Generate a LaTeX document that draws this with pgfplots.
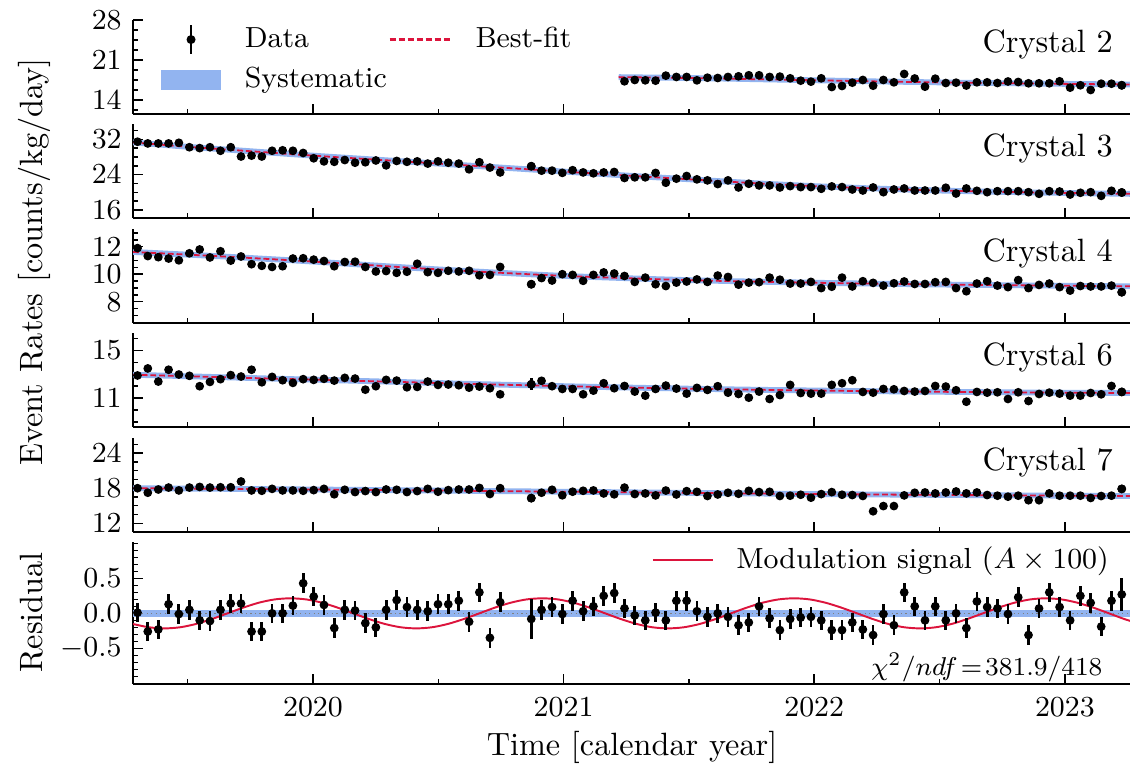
\documentclass[border=0pt]{standalone}
\usepackage{pgfplots}
\pgfplotsset{compat=1.18}
\usepackage{pgfplotstable}
\definecolor{crim}{RGB}{220,20,60}
\definecolor{sysblue}{RGB}{146,180,240}
\tikzset{lab/.style={inner sep=0pt, outer sep=0pt, font=\normalsize}}

\pgfplotstableread{
t c2 c3 c4 c6 c7 r re
2019.300 nan 31.45 11.90 12.89 18.00 0.01 0.14
2019.341 nan 31.06 11.32 13.48 17.23 -0.26 0.14
2019.383 nan 31.06 11.24 12.38 17.78 -0.23 0.14
2019.424 nan 31.06 11.14 13.37 18.11 0.13 0.14
2019.465 nan 31.20 11.01 12.97 17.62 -0.01 0.14
2019.507 nan 30.20 11.52 12.86 18.11 0.05 0.14
2019.548 nan 30.00 11.80 11.99 18.22 -0.10 0.14
2019.589 nan 30.20 11.22 12.35 18.11 -0.11 0.14
2019.631 nan 29.40 11.67 12.58 18.16 0.05 0.14
2019.672 nan 30.20 10.99 12.92 18.16 0.14 0.14
2019.713 nan 28.10 11.29 12.80 19.15 0.14 0.14
2019.755 nan 28.30 10.73 13.37 17.62 -0.26 0.14
2019.796 nan 28.10 10.61 12.32 17.56 -0.26 0.14
2019.837 nan 29.40 10.53 12.77 17.89 0.00 0.14
2019.879 nan 29.50 10.58 12.49 17.62 0.00 0.14
2019.920 nan 29.40 11.14 12.27 17.62 0.11 0.14
2019.961 nan 28.90 11.16 12.58 17.56 0.43 0.14
2020.003 nan 27.70 11.06 12.52 17.67 0.24 0.14
2020.044 nan 27.00 10.96 12.61 17.89 0.12 0.14
2020.085 nan 26.90 10.58 12.46 16.96 -0.21 0.14
2020.127 nan 27.30 10.89 12.69 17.73 0.05 0.14
2020.168 nan 26.70 10.91 12.63 17.34 0.04 0.14
2020.209 nan 26.80 10.53 11.70 17.51 -0.14 0.14
2020.251 nan 27.20 10.20 11.99 17.34 -0.20 0.14
2020.292 nan 26.10 10.23 12.52 17.78 0.05 0.14
2020.334 nan 27.10 10.10 12.46 17.73 0.19 0.14
2020.375 nan 26.90 10.18 11.90 17.34 0.09 0.14
2020.416 nan 27.00 10.76 11.93 17.51 0.05 0.14
2020.458 nan 26.50 10.15 12.38 17.89 0.03 0.14
2020.499 nan 27.00 10.10 12.10 17.40 0.13 0.14
2020.540 nan 26.70 10.25 12.13 17.67 0.13 0.14
2020.582 nan 26.50 10.20 12.07 17.78 0.18 0.14
2020.623 nan 25.20 10.25 11.87 17.78 -0.12 0.14
2020.664 nan 26.80 9.92 11.96 18.05 0.30 0.14
2020.706 nan 25.60 9.95 11.82 17.01 -0.35 0.14
2020.747 nan 24.50 10.53 11.31 18.00 0.16 0.14
2020.871 nan 25.90 9.27 12.15 16.30 -0.08 0.29
2020.912 nan 24.90 9.72 12.44 17.23 0.05 0.14
2020.954 nan 24.90 9.54 11.99 17.73 0.09 0.14
2020.995 nan 24.40 10.00 11.76 16.79 -0.01 0.14
2021.036 nan 25.00 9.95 11.76 17.40 0.18 0.14
2021.078 nan 24.50 9.52 11.31 17.56 0.03 0.14
2021.119 nan 24.30 9.95 11.62 17.62 0.10 0.14
2021.160 nan 24.50 10.13 12.24 17.10 0.25 0.14
2021.202 nan 24.60 10.05 11.82 16.95 0.29 0.14
2021.243 17.27 23.24 9.87 12.01 18.10 0.07 0.14
2021.284 17.50 23.39 9.44 11.54 17.00 -0.03 0.14
2021.326 17.44 23.39 9.75 11.20 17.10 -0.10 0.14
2021.367 17.38 24.38 9.27 11.76 16.77 0.01 0.14
2021.408 18.26 22.17 9.14 12.04 17.60 -0.10 0.14
2021.450 18.03 23.09 9.39 11.79 16.93 0.18 0.14
2021.491 18.03 23.69 9.47 11.37 17.50 0.18 0.14
2021.532 17.44 22.93 9.62 11.85 17.38 0.03 0.14
2021.574 17.90 22.70 9.44 11.68 16.67 -0.05 0.14
2021.615 17.85 21.87 9.90 11.99 16.93 0.00 0.14
2021.656 18.03 22.70 9.80 11.45 17.22 -0.05 0.14
2021.698 18.14 21.10 9.24 11.34 17.05 -0.17 0.14
2021.739 18.32 21.94 9.39 11.03 17.55 -0.13 0.14
2021.780 18.32 21.56 9.42 11.54 17.33 0.10 0.14
2021.822 18.03 21.56 9.75 10.92 17.38 -0.07 0.14
2021.863 18.09 21.10 9.60 11.25 16.67 -0.24 0.14
2021.904 17.79 21.40 9.32 12.10 16.72 -0.08 0.14
2021.946 17.38 21.18 9.32 11.42 16.88 -0.06 0.14
2021.987 17.21 21.18 9.44 11.37 16.38 -0.05 0.14
2022.028 17.79 20.80 8.99 11.37 16.99 -0.10 0.14
2022.070 16.27 21.33 9.09 12.10 17.33 -0.24 0.14
2022.111 16.45 21.18 9.75 12.24 16.88 -0.24 0.14
2022.152 17.03 20.64 9.11 12.49 16.83 -0.13 0.14
2022.194 17.50 20.41 9.49 11.51 16.67 -0.23 0.14
2022.235 16.50 21.10 9.37 11.45 14.05 -0.31 0.14
2022.276 17.50 20.03 9.17 11.76 14.94 -0.01 0.14
2022.318 17.09 20.64 9.34 11.73 14.94 -0.17 0.14
2022.359 18.55 20.87 9.47 11.59 16.77 0.30 0.14
2022.401 17.76 20.41 9.29 11.54 17.22 0.10 0.14
2022.442 16.33 20.41 9.29 11.59 17.27 -0.10 0.14
2022.483 17.73 20.41 9.42 12.01 17.11 0.10 0.14
2022.525 16.97 21.03 9.44 11.96 17.27 -0.10 0.14
2022.566 17.03 19.73 8.99 11.65 17.44 0.00 0.14
2022.607 16.53 20.87 8.76 10.69 17.11 -0.21 0.14
2022.649 17.09 20.34 9.32 11.51 17.27 0.17 0.14
2022.690 17.09 20.03 9.49 11.45 16.83 0.09 0.14
2022.731 16.97 20.26 9.17 11.48 16.72 0.07 0.14
2022.773 17.24 20.26 9.06 10.92 16.55 -0.01 0.14
2022.814 17.15 20.26 9.57 11.48 16.72 0.23 0.14
2022.855 16.92 20.03 8.99 10.75 15.94 -0.31 0.14
2022.897 16.92 19.66 9.22 11.34 15.94 0.07 0.14
2022.938 16.92 20.26 9.32 11.45 17.11 0.30 0.14
2022.979 17.27 20.18 9.06 11.37 16.72 0.09 0.14
2023.021 16.16 19.50 8.81 11.20 16.72 -0.10 0.14
2023.062 16.57 19.89 9.14 11.20 16.72 0.25 0.14
2023.103 15.75 20.03 9.11 11.42 16.33 0.15 0.14
2023.145 16.85 19.20 9.11 11.31 16.66 -0.19 0.14
2023.186 16.85 20.34 9.17 12.01 16.72 0.18 0.14
2023.227 16.57 19.96 8.69 11.51 17.88 0.27 0.24
}\datatable

\pgfplotsset{
  panel/.style={
    scale only axis, width=309.07pt, anchor=north west,
    xmin=2019.282, xmax=2023.26,
    axis x line*=bottom, axis y line*=left,
    axis line style={-, line width=0.6pt},
    tick align=inside,
    xtick={2020,2021,2022,2023},
    minor xtick={2019.5,2020.5,2021.5,2022.5},
    xticklabels={},
    major tick length=3.2pt, minor tick length=1.7pt,
    every tick/.style={black, line width=0.45pt},
    tick label style={font=\small},
    unbounded coords=discard,
  },
  cpanel/.style={panel, height=29.14pt},
  band/.style={sysblue, line width=1.8pt, smooth},
  fit/.style={crim, line width=0.55pt, dash pattern=on 1.8pt off 0.9pt, smooth},
  dots/.style={only marks, mark=*, mark size=1.15pt, black},
  errdots/.style={black, mark=*, mark size=1.15pt, only marks,
    error bars/y dir=both, error bars/y explicit, error bars/error mark=none,
    error bars/error bar style={line width=0.85pt, black}},
  dataleg/.style={legend image code/.code={
    \path[draw=none, fill=none] (0pt,-4.4pt) rectangle (18.4pt,4.4pt);
    \draw[draw=black, line width=0.9pt] (9.2pt,-4.4pt) -- (9.2pt,4.4pt);
    \fill[fill=black, draw=none] (9.2pt,0pt) circle (1.4pt);}},
  fitleg/.style={legend image code/.code={
    \draw[draw=crim, line width=0.7pt, dash pattern=on 1.9pt off 0.9pt] (0pt,0pt) -- (18.8pt,0pt);}},
  sysleg/.style={legend image code/.code={
    \fill[fill=sysblue, draw=none] (0pt,-3.2pt) rectangle (18.4pt,3.2pt);}},
  modleg/.style={legend image code/.code={
    \draw[draw=crim, line width=0.6pt] (0pt,0pt) -- (18.6pt,0pt);}},
}

\begin{document}
\begin{tikzpicture}
\useasboundingbox (-41.23pt,0pt) rectangle (309.07pt,-237.15pt);

% ---------- Crystal 2
\begin{axis}[cpanel, at={(0pt,-6.2pt)},
  ymin=11.55, ymax=28, ytick={14,21,28},
  minor ytick={12.25,15.75,17.5,19.25,22.75,24.5,26.25},
  legend columns=2, legend cell align=left,
  legend style={at={(0.0278,0.965)}, anchor=north west, draw=none, fill=none,
    inner sep=0pt, font=\small, nodes={inner sep=0.5pt},
    /tikz/every odd column/.append style={column sep=7pt},
    /tikz/every even column/.append style={column sep=0pt},
    /tikz/row sep=3.3pt}]
\addlegendimage{dataleg}\addlegendentry{Data}
\addlegendimage{fitleg}\addlegendentry{Best-fit}
\addlegendimage{sysleg}\addlegendentry{Systematic}
\addplot[band, forget plot] coordinates {(2021.22,18.0) (2021.5,17.85) (2021.75,17.65) (2022.0,17.45) (2022.25,17.25) (2022.5,17.08) (2022.75,16.94) (2023.0,16.82) (2023.26,16.72)};
\addplot[fit, forget plot] coordinates {(2021.22,18.0) (2021.5,17.85) (2021.75,17.65) (2022.0,17.45) (2022.25,17.25) (2022.5,17.08) (2022.75,16.94) (2023.0,16.82) (2023.26,16.72)};
\addplot[dots, forget plot] table[x=t, y=c2] {\datatable};
\addplot[forget plot, errdots] coordinates {(2023.227,16.57) +- (0,0.3)};
\node[lab, anchor=base east] at (rel axis cs:0.9827,0.652) {Crystal 2};
\end{axis}

% ---------- Crystal 3
\begin{axis}[cpanel, at={(0pt,-38.44pt)},
  ymin=14.19, ymax=35.46, ytick={16,24,32},
  minor ytick={18,20,22,26,28,30,34}]
\addplot[band] coordinates {(2019.282,31.3) (2019.5,30.3) (2019.75,29.3) (2020.0,28.3) (2020.25,27.4) (2020.5,26.5) (2020.75,25.6) (2021.0,24.7) (2021.25,23.8) (2021.5,22.95) (2021.75,22.1) (2022.0,21.4) (2022.25,20.85) (2022.5,20.4) (2022.75,20.1) (2023.0,19.85) (2023.26,19.65)};
\addplot[fit] coordinates {(2019.282,31.3) (2019.5,30.3) (2019.75,29.3) (2020.0,28.3) (2020.25,27.4) (2020.5,26.5) (2020.75,25.6) (2021.0,24.7) (2021.25,23.8) (2021.5,22.95) (2021.75,22.1) (2022.0,21.4) (2022.25,20.85) (2022.5,20.4) (2022.75,20.1) (2023.0,19.85) (2023.26,19.65)};
\addplot[dots] table[x=t, y=c3] {\datatable};
\addplot[errdots] coordinates {(2020.871,25.9) +- (0,0.6) (2023.227,19.96) +- (0,0.5)};
\node[lab, anchor=base east] at (rel axis cs:0.9827,0.652) {Crystal 3};
\end{axis}

% ---------- Crystal 4
\begin{axis}[cpanel, at={(0pt,-70.99pt)},
  ymin=6.45, ymax=13.29, ytick={8,10,12},
  minor ytick={6.5,7,7.5,8.5,9,9.5,10.5,11,11.5,12.5,13}]
\addplot[band] coordinates {(2019.282,11.62) (2019.6,11.33) (2020.0,10.92) (2020.5,10.35) (2021.0,9.88) (2021.5,9.57) (2022.0,9.38) (2022.5,9.25) (2023.0,9.16) (2023.26,9.12)};
\addplot[fit] coordinates {(2019.282,11.62) (2019.6,11.33) (2020.0,10.92) (2020.5,10.35) (2021.0,9.88) (2021.5,9.57) (2022.0,9.38) (2022.5,9.25) (2023.0,9.16) (2023.26,9.12)};
\addplot[dots] table[x=t, y=c4] {\datatable};
\addplot[errdots] coordinates {(2020.871,9.27) +- (0,0.3) (2023.227,8.69) +- (0,0.22)};
\node[lab, anchor=base east] at (rel axis cs:0.9827,0.652) {Crystal 4};
\end{axis}

% ---------- Crystal 6
\begin{axis}[cpanel, at={(0pt,-103.23pt)},
  ymin=8.57, ymax=16.45, ytick={11,15},
  minor ytick={9,10,12,13,14,16}]
\addplot[band] coordinates {(2019.282,12.95) (2019.75,12.68) (2020.25,12.4) (2020.75,12.12) (2021.25,11.88) (2021.75,11.7) (2022.25,11.57) (2022.75,11.48) (2023.26,11.42)};
\addplot[fit] coordinates {(2019.282,12.95) (2019.75,12.68) (2020.25,12.4) (2020.75,12.12) (2021.25,11.88) (2021.75,11.7) (2022.25,11.57) (2022.75,11.48) (2023.26,11.42)};
\addplot[dots] table[x=t, y=c6] {\datatable};
\addplot[errdots] coordinates {(2020.871,12.15) +- (0,0.5) (2023.227,11.51) +- (0,0.35)};
\node[lab, anchor=base east] at (rel axis cs:0.9827,0.652) {Crystal 6};
\end{axis}

% ---------- Crystal 7
\begin{axis}[cpanel, at={(0pt,-135.78pt)},
  ymin=10.5, ymax=26.6, ytick={12,18,24},
  minor ytick={13.5,15,16.5,19.5,21,22.5,25.5}]
\addplot[band] coordinates {(2019.282,18.0) (2020.0,17.78) (2020.5,17.6) (2021.0,17.4) (2021.5,17.2) (2022.0,17.0) (2022.5,16.85) (2023.0,16.72) (2023.26,16.66)};
\addplot[fit] coordinates {(2019.282,18.0) (2020.0,17.78) (2020.5,17.6) (2021.0,17.4) (2021.5,17.2) (2022.0,17.0) (2022.5,16.85) (2023.0,16.72) (2023.26,16.66)};
\addplot[dots] table[x=t, y=c7] {\datatable};
\addplot[errdots] coordinates {(2020.871,16.3) +- (0,0.6) (2023.227,17.88) +- (0,0.5)};
\node[lab, anchor=base east] at (rel axis cs:0.9827,0.652) {Crystal 7};
\end{axis}

% ---------- Residual
\begin{axis}[panel, height=44.02pt, at={(0pt,-168.02pt)},
  ymin=-1.01, ymax=1.02, ytick={-0.5,0,0.5}, yticklabels={$-0.5$,$0.0$,$0.5$},
  minor ytick={-1,-0.9,-0.8,-0.7,-0.6,-0.4,-0.3,-0.2,-0.1,0.1,0.2,0.3,0.4,0.6,0.7,0.8,0.9,1},
  xticklabels={2020,2021,2022,2023},
  xticklabel style={yshift=-0.5pt},
  legend cell align=left,
  legend style={at={(0.981,0.873)}, anchor=east, draw=none, fill=none,
    inner sep=0pt, font=\small, nodes={inner sep=0.5pt},
    /tikz/every odd column/.append style={column sep=6.5pt}}]
\addlegendimage{modleg}\addlegendentry{Modulation signal ($A\times100$)}
\addplot[sysblue, line width=2.2pt, forget plot] coordinates {(2019.282,0) (2023.26,0)};
\addplot[gray, densely dotted, line width=0.4pt, forget plot] coordinates {(2019.282,0) (2023.26,0)};
\addplot[crim, line width=0.6pt, smooth, forget plot] coordinates {
(2019.282,-0.152) (2019.345,-0.199) (2019.408,-0.215) (2019.470,-0.199) (2019.533,-0.152)
(2019.596,-0.082) (2019.659,0) (2019.722,0.082) (2019.784,0.152) (2019.847,0.199)
(2019.910,0.215) (2019.973,0.199) (2020.036,0.152) (2020.098,0.082) (2020.161,0)
(2020.224,-0.082) (2020.287,-0.152) (2020.350,-0.199) (2020.412,-0.215) (2020.475,-0.199)
(2020.538,-0.152) (2020.601,-0.082) (2020.664,0) (2020.726,0.082) (2020.789,0.152)
(2020.852,0.199) (2020.915,0.215) (2020.978,0.199) (2021.040,0.152) (2021.103,0.082)
(2021.166,0) (2021.229,-0.082) (2021.292,-0.152) (2021.354,-0.199) (2021.417,-0.215)
(2021.480,-0.199) (2021.543,-0.152) (2021.606,-0.082) (2021.668,0) (2021.731,0.082)
(2021.794,0.152) (2021.857,0.199) (2021.920,0.215) (2021.982,0.199) (2022.045,0.152)
(2022.108,0.082) (2022.171,0) (2022.234,-0.082) (2022.296,-0.152) (2022.359,-0.199)
(2022.422,-0.215) (2022.485,-0.199) (2022.548,-0.152) (2022.610,-0.082) (2022.673,0)
(2022.736,0.082) (2022.799,0.152) (2022.862,0.199) (2022.924,0.215) (2022.987,0.199)
(2023.050,0.152) (2023.113,0.082) (2023.176,0) (2023.238,-0.082) (2023.301,-0.152)};
\addplot[forget plot, errdots] table[x=t, y=r, y error=re] {\datatable};
\node[inner sep=0pt, anchor=base east, font=\footnotesize] at (rel axis cs:0.973,0.063) {$\chi^2/ndf\!=\!381.9/418$};
\end{axis}

\node[lab, rotate=90, anchor=base] at (-28pt,-81.2pt) {Event Rates [counts/kg/day]};
\node[lab, rotate=90, anchor=base] at (-28pt,-189.9pt) {Residual};
\node[lab, anchor=base] at (154.7pt,-234.05pt) {Time [calendar year]};
\end{tikzpicture}
\end{document}
